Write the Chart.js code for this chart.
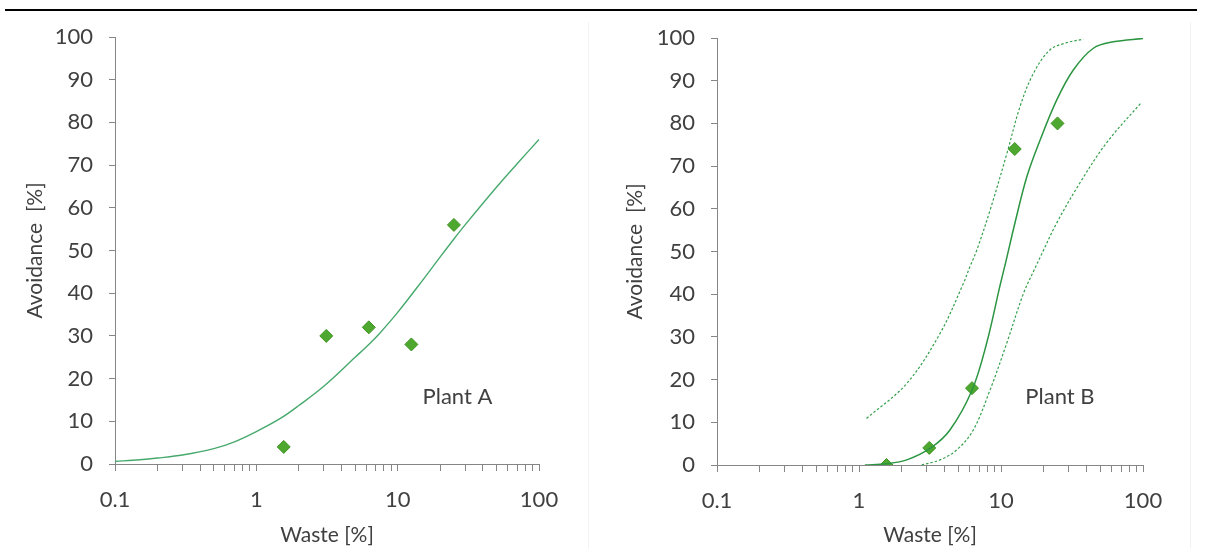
<!DOCTYPE html>
<html>
<head>
<meta charset="utf-8">
<script src="https://cdn.jsdelivr.net/npm/chart.js@4.4.1/dist/chart.umd.min.js"></script>
<style>
  html, body { margin: 0; padding: 0; background: #ffffff; }
  body { width: 1213px; height: 548px; position: relative; overflow: hidden; }
  #rule { position: absolute; left: 5px; top: 9px; width: 1192px; height: 2px; background: #000; }
  .frame { position: absolute; top: 22px; width: 1px; height: 526px; background: #f2f2f2; }
  #cA { position: absolute; left: 0; top: 0; }
  #cB { position: absolute; left: 600px; top: 0; }
</style>
</head>
<body>
<div id="rule"></div>
<div class="frame" style="left:588px"></div>
<div class="frame" style="left:1190px"></div>
<canvas id="cA" width="588" height="548"></canvas>
<canvas id="cB" width="613" height="548"></canvas>
<script>
// ---- data ----
const wasteDoses = [1.5625, 3.125, 6.25, 12.5, 25];
const avoidA = [4, 30, 32, 28, 56];
const avoidB = [0, 4, 18, 74, 80];

const fitA_x = [0.1, 0.15, 0.2, 0.3, 0.5, 0.7, 1, 1.5, 2, 3, 5, 6.25, 7.5, 10, 15, 20, 25, 30, 50, 70, 100];
const fitA_y = [0.6, 1.0, 1.4, 2.1, 3.6, 5.2, 7.6, 10.8, 13.7, 18.2, 25, 28, 30.7, 35.5, 43, 48.5, 52.7, 56, 64.8, 70.3, 76];

const fitB_x = [1.1, 1.56, 2.17, 3.2, 4.37, 6.25, 7.92, 9.84, 10.8, 12.5, 15.2, 18.8, 24.7, 32.3, 44.7, 61.7, 100];
const fitB_y = [0, 0.3, 1.2, 4, 8.2, 17.5, 28.5, 42, 47.5, 56.5, 67.5, 76, 85.5, 92.5, 97.6, 99.1, 99.9];

const upperB_x = [1.13, 2.17, 3.72, 5.43, 6.05, 6.75, 8.38, 10.97, 13.6, 16.9, 22.1, 29.0, 38];
const upperB_y = [10.9, 19.1, 30.8, 42.5, 46.5, 50.3, 59.7, 72.8, 83.9, 91.7, 97.2, 98.9, 99.7];

const lowerB_x = [2.76, 3.72, 4.87, 6.38, 8.38, 10.97, 14.4, 17.3, 19.4, 24.7, 36, 55.5, 98];
const lowerB_y = [0, 1.2, 3.5, 8.2, 17.6, 28.5, 40.2, 46, 49.5, 56.7, 66.1, 75.5, 85];

const xMajorTicks = [0.1, 1, 10, 100];
const xTickLabels = ['0.1', '1', '10', '100'];
const yTicks = [0, 10, 20, 30, 40, 50, 60, 70, 80, 90, 100];
const plantLabels = ['Plant A', 'Plant B'];
const xTitle = 'Waste [%]';
const yTitle = 'Avoidance  [%]';

// ---- helpers ----
const pts = (xs, ys) => xs.map((x, i) => ({ x: x, y: ys[i] }));
const xTickValues = [];
xMajorTicks.forEach((m, i) => {
  xTickValues.push(m);
  if (i < xMajorTicks.length - 1) for (let k = 2; k <= 9; k++) xTickValues.push(+(m * k).toPrecision(6));
});

const TEXT = '#404040';
const AXIS = '#868686';
const FONT = 'Lato';

function makeChart(canvasId, datasets, label, area) {
  const labelPlugin = {
    id: 'plantLabel',
    afterDatasetsDraw(chart) {
      const ctx = chart.ctx;
      ctx.save();
      ctx.font = '22px ' + FONT;
      ctx.fillStyle = TEXT;
      ctx.textAlign = 'center';
      ctx.textBaseline = 'middle';
      ctx.fillText(label, chart.scales.x.getPixelForValue(area.lx), chart.scales.y.getPixelForValue(area.ly));
      ctx.restore();
    }
  };
  return new Chart(document.getElementById(canvasId), {
    type: 'scatter',
    data: { datasets: datasets },
    options: {
      responsive: false,
      animation: false,
      devicePixelRatio: 1,
      layout: { padding: { left: 0, right: area.right, top: area.top, bottom: 0 } },
      plugins: { legend: { display: false }, tooltip: { enabled: false } },
      scales: {
        x: {
          type: 'logarithmic',
          min: 0.1, max: 100,
          afterBuildTicks(scale) {
            scale.ticks = xTickValues.map(v => ({ value: v, major: xMajorTicks.includes(v) }));
          },
          afterFit(scale) { scale.height = area.xh; },
          ticks: {
            autoSkip: false, maxRotation: 0, minRotation: 0, padding: 16,
            color: TEXT, font: { family: FONT, size: 22 },
            callback(v) { const i = xMajorTicks.indexOf(v); return i >= 0 ? xTickLabels[i] : ''; }
          },
          grid: { display: true, drawOnChartArea: false, drawTicks: true, tickLength: 7, tickColor: AXIS, tickWidth: 1 },
          border: { display: true, color: AXIS, width: 1 },
          title: { display: true, text: xTitle, color: TEXT, font: { family: FONT, size: 21 }, padding: { top: 0, bottom: 0 } }
        },
        y: {
          type: 'linear',
          min: 0, max: 100,
          afterBuildTicks(scale) { scale.ticks = yTicks.map(v => ({ value: v })); },
          afterFit(scale) { scale.width = area.yw; },
          ticks: { padding: 16, color: TEXT, font: { family: FONT, size: 22 } },
          grid: { display: true, drawOnChartArea: false, drawTicks: true, tickLength: 6, tickColor: AXIS, tickWidth: 1 },
          border: { display: true, color: AXIS, width: 1 },
          title: { display: true, text: yTitle, color: TEXT, font: { family: FONT, size: 21 }, padding: { top: 23, bottom: 0 } }
        }
      }
    },
    plugins: [labelPlugin]
  });
}

const markerStyle = {
  showLine: false, pointStyle: 'rectRot', pointRadius: 6.5, pointHoverRadius: 6.5,
  backgroundColor: '#4ea72e', borderColor: '#3f9424', borderWidth: 1
};
const curveStyle = (color, width, dash) => ({
  showLine: true, pointRadius: 0, borderColor: color, borderWidth: width,
  borderDash: dash || [], tension: 0.35, fill: false
});

makeChart('cA', [
  Object.assign({ data: pts(fitA_x, fitA_y) }, curveStyle('#47a96d', 1.4)),
  Object.assign({ data: pts(wasteDoses, avoidA) }, markerStyle)
], plantLabels[0], { lx: 26.5, ly: 15.8, right: 49, top: 37, xh: 84, yw: 115 });

makeChart('cB', [
  Object.assign({ data: pts(upperB_x, upperB_y) }, curveStyle('#35a04c', 1.2, [2.5, 2])),
  Object.assign({ data: pts(lowerB_x, lowerB_y) }, curveStyle('#35a04c', 1.2, [2.5, 2])),
  Object.assign({ data: pts(fitB_x, fitB_y) }, curveStyle('#2b9541', 1.5)),
  Object.assign({ data: pts(wasteDoses, avoidB) }, markerStyle)
], plantLabels[1], { lx: 26, ly: 16, right: 70, top: 38, xh: 83, yw: 117 });
</script>
</body>
</html>
